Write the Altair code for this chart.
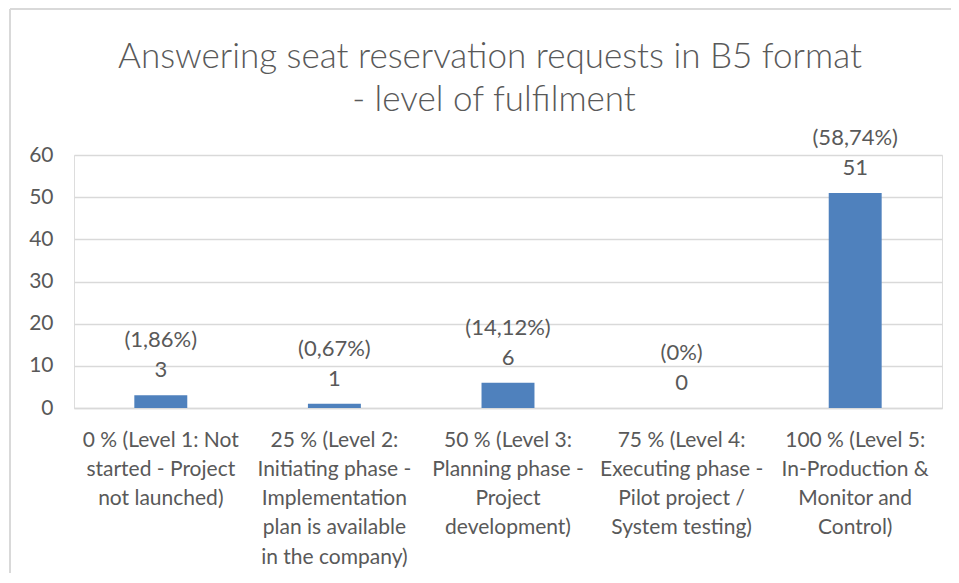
import altair as alt
import pandas as pd

categories = [
    "0 % (Level 1: Not|started - Project|not launched)",
    "25 % (Level 2:|Initiating phase -|Implementation|plan is available|in the company)",
    "50 % (Level 3:|Planning phase -|Project|development)",
    "75 % (Level 4:|Executing phase -|Pilot project /|System testing)",
    "100 % (Level 5:|In-Production &|Monitor and|Control)",
]
counts = [3, 1, 6, 0, 51]
percents = ["(1,86%)", "(0,67%)", "(14,12%)", "(0%)", "(58,74%)"]
title_lines = ["Answering seat reservation requests in B5 format", "- level of fulfilment"]

df = pd.DataFrame({
    "cat": categories,
    "count": counts,
    "pct": percents,
})
df["label"] = df["pct"] + "\n" + df["count"].astype(str)

TXT = "#595959"
FONT = "Lato"

x_enc = alt.X(
    "cat:N",
    sort=categories,
    title=None,
    scale=alt.Scale(paddingInner=0.695, paddingOuter=0.3475),
    axis=alt.Axis(
        labelExpr="split(datum.label, '|')",
        labelAngle=0,
        labelFontSize=21,
        labelLineHeight=29.3,
        labelColor=TXT,
        labelFont=FONT,
        labelPadding=21,
        labelLimit=300,
        ticks=False,
        domainColor="#d9d9d9",
        domainWidth=1.5,
        labelBaseline="top",
    ),
)
y_enc = alt.Y(
    "count:Q",
    title=None,
    scale=alt.Scale(domain=[0, 60]),
    axis=alt.Axis(
        values=[0, 10, 20, 30, 40, 50, 60],
        labelFontSize=21,
        labelColor=TXT,
        labelFont=FONT,
        labelPadding=21,
        ticks=False,
        domain=False,
        gridColor="#d9d9d9",
        gridWidth=1.5,
    ),
)

bars = alt.Chart(df).mark_bar(color="#4f81bd").encode(x=x_enc, y=y_enc)
labels = alt.Chart(df).mark_text(
    baseline="bottom", dy=-43, fontSize=22, color=TXT, font=FONT,
    lineBreak="\n", lineHeight=30,
).encode(x=alt.X("cat:N", sort=categories), y="count:Q", text="label:N")

tdf = pd.DataFrame({"t": title_lines, "i": [0, 1]})
title1 = alt.Chart(tdf).transform_filter("datum.i == 0").mark_text(
    fontSize=35, font=FONT, fontWeight=300, color=TXT, align="center", baseline="middle"
).encode(x=alt.value(416), y=alt.value(-98), text="t:N")
title2 = alt.Chart(tdf).transform_filter("datum.i == 1").mark_text(
    fontSize=35, font=FONT, fontWeight=300, color=TXT, align="center", baseline="middle"
).encode(x=alt.value(420), y=alt.value(-55), text="t:N")

border_top = alt.Chart(df).mark_rule(color="#d9d9d9", strokeWidth=2).encode(
    x=alt.value(-64), x2=alt.value(900), y=alt.value(-146)
)
border_left = alt.Chart(df).mark_rule(color="#d9d9d9", strokeWidth=2).encode(
    x=alt.value(-64), y=alt.value(-146), y2=alt.value(440)
)

chart = alt.layer(bars, labels, title1, title2, border_top, border_left).properties(
    width=868,
    height=253,
    autosize=alt.AutoSizeParams(type="none"),
    padding={"left": 66, "top": 147, "right": 9, "bottom": 165},
).configure_view(stroke="transparent", strokeWidth=0).configure(background="white")

chart.save("out.html", embed_options={"renderer": "svg", "actions": False})
